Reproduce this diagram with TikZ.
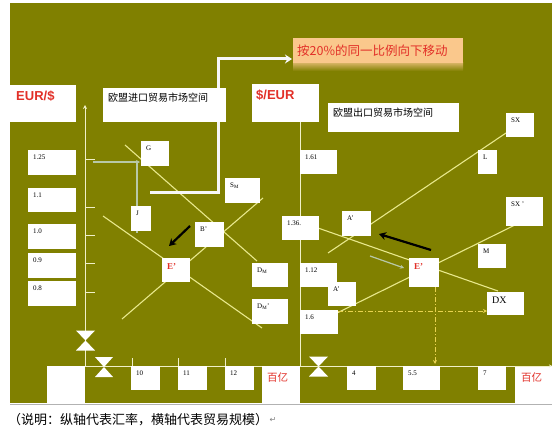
\documentclass[tikz,border=0pt]{standalone}
\usepackage{fontspec}
\setmainfont{Liberation Serif}
\newfontfamily\cjk{Noto Sans CJK SC}
\newfontfamily\arialf{Liberation Sans}
\newfontfamily\dejavu{DejaVu Sans}
\usetikzlibrary{arrows.meta,fit}
\definecolor{olivebg}{RGB}{128,128,0}
\definecolor{lineyel}{RGB}{232,232,140}
\definecolor{axiscol}{RGB}{240,240,200}
\definecolor{grayarr}{RGB}{184,200,168}
\definecolor{redtxt}{RGB}{226,48,40}
\definecolor{orangebox}{RGB}{250,200,140}
\definecolor{dashyel}{RGB}{232,210,80}
\tikzset{
  boxnode/.style={fill=white, draw=none, inner sep=0pt, outer sep=0pt},
  boxlbl/.style={anchor=north west, inner sep=0pt, font=\fontsize{7}{8}\selectfont},
  curve/.style={draw=lineyel, line width=1.1pt},
  axisline/.style={draw=axiscol, line width=1pt},
  blackarr/.style={draw=black, line width=2.2pt, -{Stealth[length=7pt,width=8pt]}},
  grayline/.style={draw=grayarr, line width=1.2pt},
  dashline/.style={draw=dashyel, line width=1pt, dash pattern=on 5pt off 2pt on 1pt off 2pt, -{Stealth[length=4pt,width=4pt]}},
}
\newcommand{\wbox}[7][]{%
  \path (#3,#4) coordinate (#2-a) (#5,#6) coordinate (#2-b);
  \node[boxnode, fit=(#2-a)(#2-b)] (#2) {};
  \node[boxlbl,#1] (#2-t) at ([xshift=5pt,yshift=-5pt]#2.north west) {#7};
}
\newcommand{\hglass}[4]{% name, cx, cy, half width
  \coordinate (#1) at (#2,#3);
  \fill[white] ([xshift=-#4pt,yshift=10pt]#1) -- ([xshift=#4pt,yshift=10pt]#1) -- (#1) -- cycle;
  \fill[white] ([xshift=-#4pt,yshift=-10pt]#1) -- ([xshift=#4pt,yshift=-10pt]#1) -- (#1) -- cycle;
}
\begin{document}
\begin{tikzpicture}[x=1pt,y=-1pt]
\useasboundingbox (0,0) rectangle (560,436);
\fill[white] (0,0) rectangle (560,436);
% background
\fill[olivebg] (10,3) rectangle (552,403);
\draw[gray!60, line width=0.6pt] (10,404) -- (552,404);
\fill[white] (47,366) rectangle (85,403);
\fill[white] (262,366) rectangle (300,403);
\fill[white] (515,366) rectangle (552,403);

% ---------- left chart ----------
\coordinate (LO) at (85,366);
\coordinate (LTop) at (85,105);
\coordinate (LEnd) at (262,366);
\draw[axisline, -{Stealth[length=4pt,width=4pt]}] (LO) -- (LTop);
\draw[axisline] (LO) -- (LEnd);
\foreach \yy in {159,207,235,263,292} \draw[axisline] (85,\yy) -- (95,\yy);
\foreach \xx in {132,178,225} \draw[axisline] (\xx,366) -- (\xx,358);

% curves left
\coordinate (dm1) at (125,145); \coordinate (dm2) at (257,261);
\coordinate (dmp1) at (103,216); \coordinate (dmp2) at (262,328);
\coordinate (sm1) at (122,319); \coordinate (sm2) at (263,198);
\draw[curve] (dm1) -- (dm2);
\draw[curve] (dmp1) -- (dmp2);
\draw[curve] (sm1) -- (sm2);

% gray path to G
\coordinate (gA) at (93,162); \coordinate (gB) at (140,162);
\coordinate (gC) at (137,162); \coordinate (gD) at (137,233);
\draw[grayline, -{Stealth[length=4pt,width=4pt]}] (gA) -- (gB);
\draw[grayline] (gC) -- (gD);

% white big arrow
\coordinate (w1) at (150,192); \coordinate (w2) at (218,192);
\coordinate (w3) at (218,59); \coordinate (w4) at (292,59);
\draw[white!94!gray, line width=3pt, -{Stealth[length=7pt,width=9pt]}] (w1) -- (w2) -- (w3) -- (w4);

% ---------- right chart ----------
\coordinate (RO) at (300,366);
\coordinate (RTop) at (300,122);
\coordinate (REnd) at (552,366);
\draw[axisline] (RO) -- (RTop);
\draw[axisline, -{Stealth[length=3pt,width=3pt]}] (RO) -- (REnd);

\coordinate (sx1) at (328,253); \coordinate (sx2) at (506,133);
\coordinate (sxp1) at (337,313); \coordinate (sxp2) at (515,225);
\coordinate (dx1) at (318,228); \coordinate (dx2) at (498,291);
\draw[curve] (sx1) -- (sx2);
\draw[curve] (sxp1) -- (sxp2);
\draw[curve] (dx1) -- (dx2);

% gray arrow right
\coordinate (ga1) at (370,256); \coordinate (ga2) at (404,268);
\draw[grayline, -{Stealth[length=4pt,width=4pt]}] (ga1) -- (ga2);

% ---------- boxes ----------
\wbox[font=\arialf\bfseries\fontsize{13}{14}\selectfont\color{redtxt}, xshift=1pt, yshift=-1pt]{eur}{10}{85}{76}{122}{EUR/\$}
\wbox[font=\cjk\fontsize{10}{12}\selectfont]{tin}{103}{88}{226}{122}{欧盟进口贸易市场空间}
\wbox[font=\arialf\bfseries\fontsize{13}{14}\selectfont\color{redtxt}, xshift=-1pt, yshift=-1pt]{usd}{252}{84}{319}{122}{\$/EUR}
\wbox[font=\cjk\fontsize{10}{12}\selectfont]{tout}{328}{103}{459}{132}{欧盟出口贸易市场空间}

\wbox{v125}{28}{150}{76}{175}{1.25}
\wbox{v11}{28}{188}{76}{212}{1.1}
\wbox{v10}{28}{224}{76}{249}{1.0}
\wbox{v09}{28}{253}{76}{278}{0.9}
\wbox{v08}{28}{281}{76}{306}{0.8}

\wbox{G}{141}{141}{169}{166}{G}
\wbox{J}{131}{206}{151}{231}{J}
\wbox{SM}{225}{178}{260}{203}{S\textsubscript{M}}
\wbox{Bp}{195}{222}{224}{247}{B'}
\wbox[font=\bfseries\fontsize{9}{10}\selectfont\color{redtxt}]{E1}{162}{258}{190}{282}{E'}
\wbox{DM}{252}{263}{288}{287}{D\textsubscript{M}}
\wbox{DMp}{252}{299}{288}{324}{D\textsubscript{M}'}

\wbox{h10}{131}{366}{160}{390}{10}
\wbox{h11}{178}{366}{207}{390}{11}
\wbox{h12}{225}{366}{254}{390}{12}
\node[font=\cjk\fontsize{10.5}{12}\selectfont, text=redtxt, anchor=west, inner sep=0] (by1) at (267,378) {百亿};

\wbox{r161}{300}{150}{337}{174}{1.61}
\wbox{r136}{282}{216}{319}{240}{1.36.}
\wbox{r112}{300}{263}{337}{287}{1.12}
\wbox{r16}{300}{310}{338}{334}{1.6}
\wbox{Ap}{342}{211}{371}{236}{A'}
\wbox{App}{328}{282}{356}{306}{A'}
\wbox[font=\bfseries\fontsize{9}{10}\selectfont\color{redtxt}]{E2}{409}{258}{439}{287}{E'}
\wbox{SX}{506}{113}{534}{137}{SX}
\wbox{L}{478}{150}{497}{174}{L}
\wbox{SXp}{506}{197}{543}{226}{SX '}
\wbox{M}{478}{244}{506}{268}{M}
\wbox[font=\fontsize{10}{11}\selectfont]{DX}{487}{292}{524}{315}{DX}
\wbox{h4}{347}{366}{376}{390}{4}
\wbox{h55}{403}{366}{440}{390}{5.5}
\wbox{h7}{478}{366}{506}{390}{7}
\node[font=\cjk\fontsize{10.5}{12}\selectfont, text=redtxt, anchor=west, inner sep=0] (by2) at (521,378) {百亿};

% dash-dot lines
\draw[dashline] (E2.south west -| 435,0) -- (435,364);
\draw[dashline] (r16.east |- 0,311) -- (DX.west |- 0,311);

% black arrows
\coordinate (ba1) at (190,226); \coordinate (ba2) at (169,246);
\draw[blackarr] (ba1) -- (ba2);
\coordinate (bb1) at (431,250); \coordinate (bb2) at (379,234);
\draw[blackarr] (bb1) -- (bb2);

% hourglasses
\hglass{hg1}{85.5}{340.5}{9.5}
\hglass{hg2}{104}{367}{9}
\hglass{hg3}{318.5}{366.5}{9.5}

% orange label
\shade[top color=orangebox!70!olivebg, bottom color=olivebg] (293,63) rectangle (463,71);
\node[fill=orangebox, inner sep=0, minimum width=170pt, minimum height=25pt, anchor=north west] (ob) at (293,38) {};
\node[font=\cjk\fontsize{12.5}{14}\selectfont, text=redtxt, anchor=west, inner sep=0] (obt) at ([xshift=4pt]ob.west) {按20\%的同一比例向下移动};

% caption
\node[font=\cjk\fontsize{13}{15}\selectfont, anchor=west, inner sep=0] (cap) at (8,420) {（说明：纵轴代表汇率，横轴代表贸易规模）};
\node[font=\dejavu\fontsize{8}{9}\selectfont, text=gray, anchor=west, inner sep=0] (capmark) at ([xshift=1pt]cap.east) {↵};
\end{tikzpicture}
\end{document}
